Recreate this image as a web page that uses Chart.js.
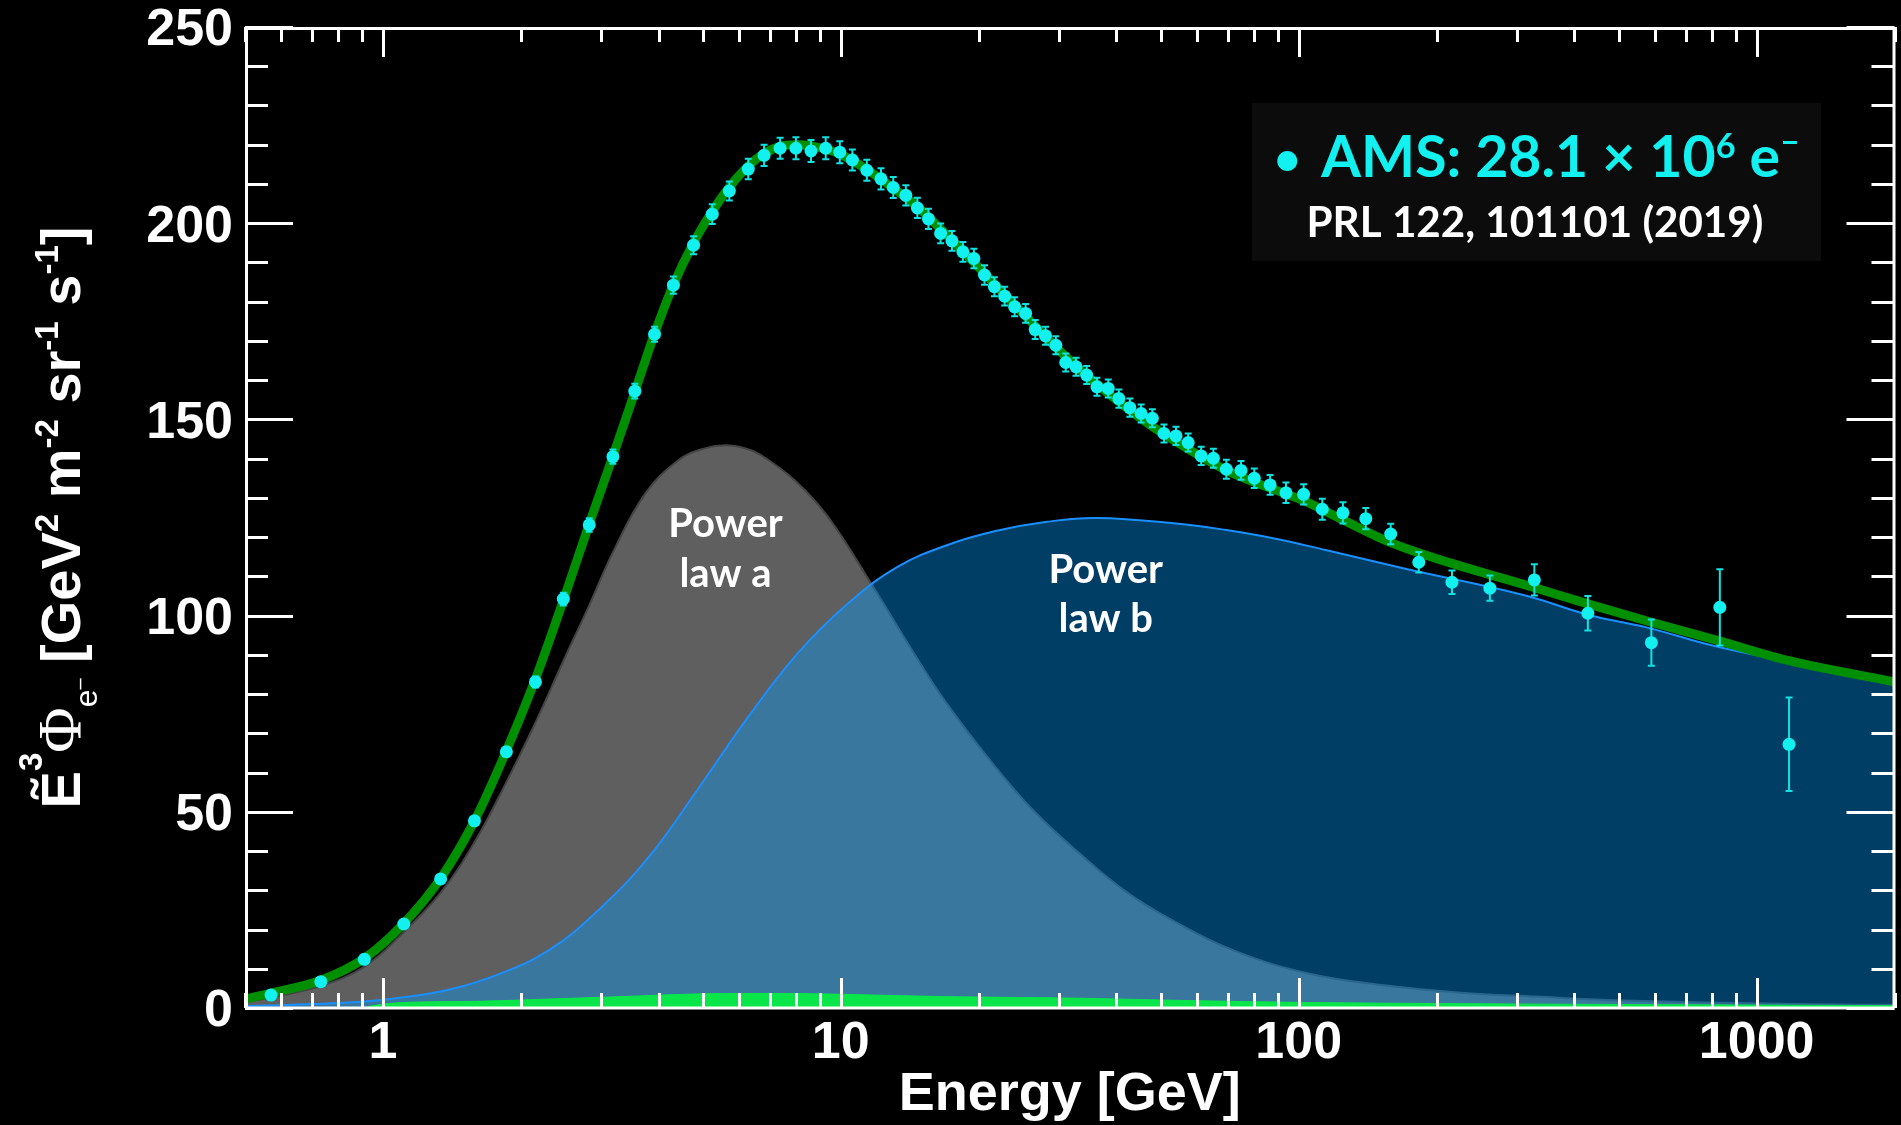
<!DOCTYPE html>
<html>
<head>
<meta charset="utf-8">
<title>AMS electron flux</title>
<script src="https://cdn.jsdelivr.net/npm/chart.js@4.4.1/dist/chart.umd.min.js"></script>
<style>
  html, body { margin: 0; padding: 0; background: #000; }
  #wrap { width: 1901px; height: 1125px; }
  canvas { display: block; }
</style>
</head>
<body>
<div id="wrap"><canvas id="chart" width="1901" height="1125"></canvas></div>
<script>
// ---- AMS electron flux, scaled by E^3 [GeV^2 m^-2 sr^-1 s^-1] ----
const amsEnergy = [0.570, 0.732, 0.911, 1.111, 1.337, 1.585, 1.861, 2.154, 2.478, 2.823,
  3.18, 3.55, 3.92, 4.31, 4.77, 5.24, 5.71, 6.28, 6.80, 7.37,
  7.98, 8.61, 9.27, 9.95, 10.6, 11.4, 12.24, 13.02, 13.87, 14.70,
  15.54, 16.52, 17.49, 18.48, 19.53, 20.60, 21.65, 22.80, 23.97, 25.33,
  26.58, 28.00, 29.49, 30.99, 32.64, 34.43, 36.26, 38.38, 40.48, 42.78,
  45.28, 47.90, 50.79, 53.95, 57.36, 61.23, 65.12, 69.50, 74.82, 79.98,
  86.6, 93.8, 102.5, 112.6, 124.9, 140.1, 158.8, 182.9, 216.1, 261.5,
  327, 428, 589, 831, 1177];
const amsFlux = [3.3, 6.7, 12.4, 21.4, 32.9, 47.7, 65.3, 83.1, 104.2, 123.1,
  140.5, 157.2, 171.7, 184.2, 194.4, 202.3, 208.2, 213.8, 217.3, 219.1,
  219.1, 218.4, 219.1, 218.1, 216.1, 213.5, 211.3, 209.1, 207.1, 203.9,
  201.1, 197.4, 195.5, 192.7, 191.0, 186.8, 183.8, 181.4, 178.7, 177.0,
  172.9, 171.3, 168.9, 164.5, 163.4, 161.3, 158.3, 157.9, 155.3, 153.0,
  151.5, 150.3, 146.4, 145.8, 144.1, 140.7, 140.1, 137.3, 137.0, 135.0,
  133.3, 131.3, 130.9, 127.1, 126.2, 124.7, 120.8, 113.6, 108.5, 107.0,
  109.1, 100.6, 93.1, 102.1, 67.2];
const amsError = [0.3, 0.4, 0.5, 0.6, 0.8, 1.0, 1.2, 1.4, 1.6, 1.7,
  1.8, 1.9, 1.9, 2.2, 2.3, 2.5, 2.4, 2.6, 2.7, 2.7,
  2.8, 2.8, 2.8, 2.8, 2.7, 2.7, 2.7, 2.7, 2.6, 2.6,
  2.6, 2.5, 2.5, 2.5, 2.5, 2.5, 2.4, 2.4, 2.4, 2.4,
  2.4, 2.3, 2.3, 2.3, 2.3, 2.3, 2.3, 2.3, 2.3, 2.3,
  2.3, 2.3, 2.3, 2.3, 2.3, 2.3, 2.4, 2.4, 2.4, 2.5,
  2.5, 2.6, 2.6, 2.7, 2.7, 2.7, 2.6, 2.6, 3.0, 3.2,
  4.0, 4.4, 5.9, 9.7, 11.9];

// ---- fitted model: total ----
const fitEnergy = [0.5, 0.57, 0.73, 0.91, 1.11, 1.34, 1.59, 1.86, 2.15, 2.48,
  2.82, 3.18, 3.55, 3.92, 4.31, 4.77, 5.24, 5.71, 6.28, 6.8,
  7.37, 7.98, 8.61, 9.27, 9.95, 11.4, 13.0, 14.7, 16.5, 18.5,
  20.6, 22.8, 25.3, 28.0, 31.0, 34.4, 38.4, 42.8, 47.9, 54.0,
  61.2, 69.5, 80.0, 93.8, 102.5, 124.9, 158.8, 216, 311, 428,
  589, 831, 1177, 2000];
const fitFlux = [2.3, 3.8, 7.0, 12.6, 21.5, 33.2, 48.0, 65.5, 83.6, 104.0,
  123.2, 140.6, 157.0, 171.8, 184.3, 195.0, 203.0, 209.2, 214.6, 217.8,
  219.6, 220.0, 219.7, 218.9, 217.6, 213.7, 209.0, 204.2, 198.6, 192.8,
  187.2, 181.8, 176.4, 171.0, 166.0, 161.2, 156.6, 152.3, 148.2, 144.3,
  140.5, 137.0, 134.0, 131.0, 129.3, 124.4, 118.6, 113.3, 107.9, 103.0,
  98.3, 93.5, 88.5, 83.1];

// ---- power law a ----
const lawAEnergy = [0.5, 0.57, 0.73, 0.91, 1.11, 1.34, 1.59, 1.86, 2.15, 2.48,
  2.82, 3.17, 3.74, 4.42, 5.0, 5.58, 6.2, 6.7, 7.93, 9.37,
  11.83, 14.2, 16.8, 21.5, 26.5, 33.3, 41.8, 52.7, 71.6, 105,
  154, 226, 332, 486, 1222, 2000];
const lawAFlux = [1.6, 2.7, 5.6, 10.5, 19.3, 29.5, 42.5, 57.5, 72.5, 88.5,
  102.5, 115.8, 131.1, 139.6, 142.5, 143.4, 142.6, 140.9, 134.5, 125.2,
  106.9, 91.8, 78.6, 62.2, 50.0, 39.3, 29.8, 22.5, 14.8, 8.8,
  5.8, 3.9, 2.9, 2.0, 1.0, 0.8];

// ---- power law b ----
const lawBEnergy = [0.5, 0.7, 0.9, 1.09, 1.4, 1.8, 2.31, 2.96, 3.81, 4.89,
  6.28, 8.07, 10.4, 13.3, 17.1, 21.9, 28.2, 36.2, 54, 69.5,
  89, 114.5, 170, 311, 432, 575, 826, 2000];
const lawBFlux = [0.5, 1.0, 1.6, 2.6, 4.7, 8.7, 14.8, 25.0, 38.5, 56.0,
  74.2, 90.5, 103.2, 112.4, 118.0, 121.6, 123.9, 124.9, 123.5, 121.8,
  119.6, 116.7, 112, 105.2, 100.1, 97, 92, 82.8];

// ---- source term ----
const sourceEnergy = [0.9, 1.0, 1.3, 1.6, 2.2, 3.5, 4.9, 6.0, 7.6, 10,
  16.6, 33, 56.7, 105, 226, 486, 2000];
const sourceFlux = [0, 1.0, 1.6, 1.7, 2.2, 3.0, 3.6, 3.7, 3.7, 3.5,
  2.9, 2.5, 1.9, 1.4, 1.1, 0.9, 0.6];

// ---- axes ----
const xRange = [0.5, 2000];
const yRange = [0, 250];
const xTickLabels = [1, 10, 100, 1000];
const yTickStep = 10;
const yLabelStep = 50;

const CYAN = '#12f0f0';
const SANS = '"Liberation Sans", Arial, Helvetica, sans-serif';
const pairs = (xs, ys) => xs.map((x, i) => ({ x, y: ys[i] }));
const POINTS = 0;

Chart.defaults.font.family = SANS;

// black page
const backgroundPlugin = {
  id: 'background',
  beforeDraw(chart) {
    const { ctx, width, height } = chart;
    ctx.save();
    ctx.fillStyle = '#000';
    ctx.fillRect(0, 0, width, height);
    ctx.restore();
  }
};

// vertical error bars under the AMS points
const errorBarPlugin = {
  id: 'errorBars',
  beforeDatasetDraw(chart, args) {
    if (args.index !== POINTS) return;
    const { ctx } = chart;
    const xs = chart.scales.x, ys = chart.scales.y;
    ctx.save();
    ctx.strokeStyle = '#10e2e2';
    ctx.lineWidth = 2;
    amsEnergy.forEach((e, i) => {
      const px = xs.getPixelForValue(e);
      const hi = ys.getPixelForValue(amsFlux[i] + amsError[i]);
      const lo = ys.getPixelForValue(amsFlux[i] - amsError[i]);
      ctx.beginPath();
      ctx.moveTo(px, hi); ctx.lineTo(px, lo);
      ctx.moveTo(px - 3.5, hi); ctx.lineTo(px + 3.5, hi);
      ctx.moveTo(px - 3.5, lo); ctx.lineTo(px + 3.5, lo);
      ctx.stroke();
    });
    ctx.restore();
  }
};

// text made of runs with their own font and baseline shift
function runsWidth(ctx, runs) {
  let w = 0;
  for (const r of runs) { ctx.font = r.font; w += ctx.measureText(r.text).width + (r.gap || 0); }
  return w;
}
function drawRuns(ctx, runs, x, y) {
  for (const r of runs) {
    ctx.font = r.font;
    ctx.fillStyle = r.color || '#fff';
    ctx.fillText(r.text, x, y + (r.dy || 0));
    x += ctx.measureText(r.text).width + (r.gap || 0);
  }
}

// frame with inward ticks on all four sides, component labels, legend
const framePlugin = {
  id: 'frame',
  afterDatasetsDraw(chart) {
    const { ctx, chartArea: a } = chart;
    const xs = chart.scales.x, ys = chart.scales.y;
    ctx.save();
    ctx.strokeStyle = '#fff';
    ctx.lineWidth = 3;
    ctx.beginPath();
    ys.ticks.forEach(t => {
      const py = Math.round(ys.getPixelForValue(t.value)) + 0.5;
      const len = t.value % yLabelStep === 0 ? 48 : 23;
      ctx.moveTo(a.left, py); ctx.lineTo(a.left + len, py);
      ctx.moveTo(a.right, py); ctx.lineTo(a.right - len, py);
    });
    // only whole multiples of each decade get a tick mark
    xs.ticks.forEach(t => {
      const v = t.value;
      const dec = Math.pow(10, Math.floor(Math.log10(v) + 1e-9));
      const sig = v / dec;
      if (Math.abs(sig - Math.round(sig)) > 1e-6) return;
      const px = Math.round(xs.getPixelForValue(v)) + 0.5;
      const len = Math.round(sig) === 1 ? 30 : 15;
      ctx.moveTo(px, a.bottom); ctx.lineTo(px, a.bottom - len);
      ctx.moveTo(px, a.top); ctx.lineTo(px, a.top + len);
    });
    ctx.stroke();
    ctx.beginPath();
    ctx.moveTo(a.left + 1.5, a.bottom); ctx.lineTo(a.left + 1.5, a.top + 1.5);
    ctx.lineTo(a.right - 0.5, a.top + 1.5); ctx.lineTo(a.right - 0.5, a.bottom);
    ctx.moveTo(a.left, a.bottom); ctx.lineTo(a.right, a.bottom);
    ctx.stroke();

    // component labels
    ctx.fillStyle = '#fff';
    ctx.textAlign = 'center';
    ctx.textBaseline = 'alphabetic';
    ctx.font = 'bold 40px Lato, "Open Sans", sans-serif';
    const lawLabels = [
      { lines: ['Power', 'law a'], energy: 5.6, value: 120.0, step: 50 },
      { lines: ['Power', 'law b'], energy: 37.9, value: 108.3, step: 49 }
    ];
    lawLabels.forEach(l => {
      const px = xs.getPixelForValue(l.energy);
      const py = ys.getPixelForValue(l.value);
      l.lines.forEach((s, i) => ctx.fillText(s, px, py + i * l.step));
    });

    // legend box
    ctx.fillStyle = '#0c0c0c';
    ctx.fillRect(1252, 103, 569, 158);
    ctx.textAlign = 'left';
    const L = 'Lato, "Open Sans", sans-serif';
    const line1 = s => [
      { text: '\u2022', font: `bold ${0.8 * s}px ${L}`, color: CYAN, dy: -0.04 * s, gap: 0.12 * s },
      { text: ' AMS: 28.1 \u00d7 10', font: `bold ${s}px ${L}`, color: CYAN },
      { text: '6', font: `bold ${0.6 * s}px ${L}`, color: CYAN, dy: -0.34 * s },
      { text: ' e', font: `bold ${s}px ${L}`, color: CYAN },
      { text: '\u2013', font: `bold ${0.6 * s}px ${L}`, color: CYAN, dy: -0.42 * s }
    ];
    let s1 = 54;
    s1 = s1 * 526 / runsWidth(ctx, line1(s1));
    drawRuns(ctx, line1(s1), 1274, 177);
    const line2 = s => [{ text: 'PRL 122, 101101 (2019)', font: `bold ${s}px ${L}`, color: '#fff' }];
    let s2 = 42;
    s2 = s2 * 457 / runsWidth(ctx, line2(s2));
    drawRuns(ctx, line2(s2), 1535 - 457 / 2, 237);
    ctx.restore();
  }
};

// rotated y-axis title with super- and subscripts
const yTitlePlugin = {
  id: 'yTitle',
  afterDraw(chart) {
    const { ctx, chartArea: a } = chart;
    const B = `bold 56px ${SANS}`;
    const S = `bold 33px ${SANS}`;
    const runs = [
      { text: '\u1EBC', font: B },
      { text: '3', font: S, dy: -38 },
      { text: '\u03A6', font: `62px "Liberation Serif", "Times New Roman", serif` },
      { text: 'e', font: `32px ${SANS}`, dy: 17 },
      { text: '\u2013', font: `20px ${SANS}`, dy: 6 },
      { text: ' [GeV', font: B },
      { text: '2', font: S, dy: -22 },
      { text: ' m', font: B },
      { text: '-2', font: S, dy: -22 },
      { text: ' sr', font: B },
      { text: '-1', font: S, dy: -22 },
      { text: ' s', font: B },
      { text: '-1', font: S, dy: -22 },
      { text: ']', font: B }
    ];
    ctx.save();
    ctx.textAlign = 'left';
    ctx.textBaseline = 'alphabetic';
    const w = runsWidth(ctx, runs);
    const cy = (a.top + a.bottom) / 2;
    ctx.translate(80, cy + w / 2);
    ctx.rotate(-Math.PI / 2);
    drawRuns(ctx, runs, 0, 0);
    ctx.restore();
  }
};

new Chart(document.getElementById('chart'), {
  type: 'line',
  data: {
    datasets: [
      {
        label: 'AMS',
        data: pairs(amsEnergy, amsFlux),
        showLine: false,
        pointRadius: 6.5,
        pointBorderWidth: 0,
        pointBackgroundColor: CYAN,
        order: 0
      },
      {
        label: 'Fit',
        data: pairs(fitEnergy, fitFlux),
        borderColor: '#008f00',
        borderWidth: 9,
        pointRadius: 0,
        cubicInterpolationMode: 'monotone',
        fill: false,
        order: 1
      },
      {
        label: 'Source term',
        data: pairs(sourceEnergy, sourceFlux),
        borderColor: '#0ae64a',
        borderWidth: 1,
        backgroundColor: '#0ae64a',
        pointRadius: 0,
        cubicInterpolationMode: 'monotone',
        fill: 'origin',
        order: 2
      },
      {
        label: 'Power law b',
        data: pairs(lawBEnergy, lawBFlux),
        borderColor: '#1a8fff',
        borderWidth: 2,
        backgroundColor: 'rgba(0,155,255,0.4)',
        pointRadius: 0,
        tension: 0.4,
        fill: 'origin',
        order: 3
      },
      {
        label: 'Power law a',
        data: pairs(lawAEnergy, lawAFlux),
        borderColor: '#444444',
        borderWidth: 2,
        backgroundColor: '#5f5f5f',
        pointRadius: 0,
        tension: 0.4,
        fill: 'origin',
        order: 4
      }
    ]
  },
  options: {
    responsive: false,
    animation: false,
    devicePixelRatio: 1,
    layout: { padding: { left: 0, right: 1, top: 27, bottom: 0 } },
    plugins: { legend: { display: false }, tooltip: { enabled: false } },
    scales: {
      x: {
        type: 'logarithmic',
        min: xRange[0],
        max: xRange[1],
        grid: { display: false, drawTicks: false },
        border: { display: false },
        ticks: {
          autoSkip: false,
          maxRotation: 0,
          padding: 10,
          color: '#fff',
          font: { size: 52, weight: 'bold', lineHeight: 1.0 },
          callback: v => (xTickLabels.some(t => Math.abs(t - v) < 1e-9 * t) ? String(Math.round(v)) : '')
        },
        title: {
          display: true,
          text: 'Energy [GeV]',
          color: '#fff',
          font: { size: 54, weight: 'bold', lineHeight: 1.1 },
          padding: { top: 0, bottom: 0 }
        },
        afterFit(scale) {
          scale.height = 117;
          scale.paddingLeft = 0;
          scale.paddingRight = 0;
        }
      },
      y: {
        min: yRange[0],
        max: yRange[1],
        grid: { display: false, drawTicks: false },
        border: { display: false },
        ticks: {
          stepSize: yTickStep,
          autoSkip: false,
          padding: 12,
          labelOffset: 4,
          color: '#fff',
          font: { size: 52, weight: 'bold', lineHeight: 1.0 },
          callback: v => (v % yLabelStep === 0 ? String(v) : '')
        },
        afterFit(scale) {
          scale.width = 245;
          scale.paddingTop = 0;
          scale.paddingBottom = 0;
        }
      }
    }
  },
  plugins: [backgroundPlugin, errorBarPlugin, framePlugin, yTitlePlugin]
});
</script>
</body>
</html>
